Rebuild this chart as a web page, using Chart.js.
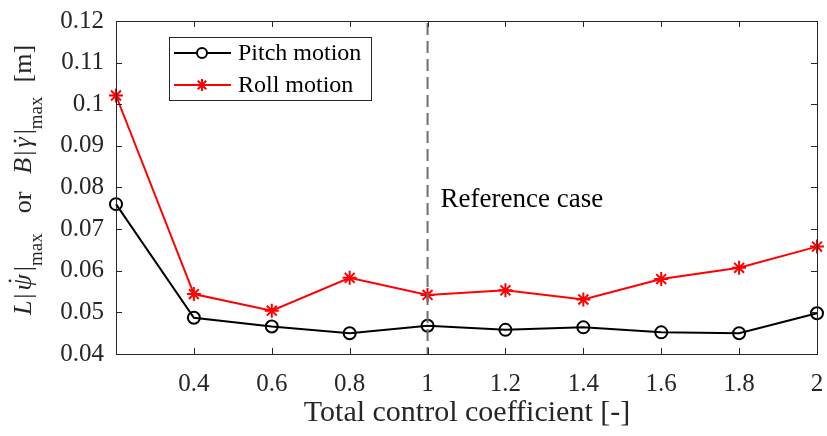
<!DOCTYPE html>
<html>
<head>
<meta charset="utf-8">
<script src="https://cdn.jsdelivr.net/npm/chart.js@4.4.1/dist/chart.umd.min.js"></script>
<style>
  html, body { margin: 0; padding: 0; background: #fff; }
  #wrap { width: 827px; height: 436px; position: relative; }
</style>
</head>
<body>
<div id="wrap"><canvas id="c" width="827" height="436"></canvas></div>
<script>
const SERIF = '"Liberation Serif", "Times New Roman", serif';
const AXIS_COLOR = '#262626';

// control coefficient values
const coeffs = [0.2, 0.4, 0.6, 0.8, 1.0, 1.2, 1.4, 1.6, 1.8, 2.0];
// L|psi'|max, pitch
const pitchVals = [0.0760, 0.0487, 0.0466, 0.0450, 0.0468, 0.0458, 0.0464, 0.0452, 0.0450, 0.0498];
// B|gamma'|max, roll
const rollVals = [0.1021, 0.0544, 0.0504, 0.0583, 0.0542, 0.0553, 0.0531, 0.0580, 0.0607, 0.0658];

const xTicks = [0.2, 0.4, 0.6, 0.8, 1, 1.2, 1.4, 1.6, 1.8, 2];
const yTicks = [0.04, 0.05, 0.06, 0.07, 0.08, 0.09, 0.1, 0.11, 0.12];
const refCase = 1;

const toPoints = vals => coeffs.map((x, i) => ({ x, y: vals[i] }));

// inward ticks on all four sides, box, reference line, legend and y title
const decorations = {
  id: 'decorations',
  afterDatasetsDraw(chart) {
    const { ctx, chartArea: a, scales } = chart;
    ctx.save();

    // reference case dashed line
    const xr = scales.x.getPixelForValue(refCase);
    ctx.strokeStyle = '#6e6e6e';
    ctx.lineWidth = 2;
    ctx.setLineDash([12, 6]);
    ctx.beginPath();
    ctx.moveTo(xr, a.top + 2);
    ctx.lineTo(xr, a.bottom);
    ctx.stroke();
    ctx.setLineDash([]);

    ctx.fillStyle = '#000';
    ctx.font = '27px ' + SERIF;
    ctx.textBaseline = 'middle';
    ctx.textAlign = 'left';
    ctx.fillText('Reference case', xr + 13, 200);

    // box and ticks
    ctx.strokeStyle = AXIS_COLOR;
    ctx.lineWidth = 1;
    ctx.strokeRect(Math.round(a.left) + 0.5, Math.round(a.top) + 0.5,
                   Math.round(a.right - a.left), Math.round(a.bottom - a.top));
    const tl = 6;
    ctx.beginPath();
    xTicks.forEach(v => {
      const px = Math.round(scales.x.getPixelForValue(v)) + 0.5;
      ctx.moveTo(px, a.bottom); ctx.lineTo(px, a.bottom - tl);
      ctx.moveTo(px, a.top); ctx.lineTo(px, a.top + tl);
    });
    yTicks.forEach(v => {
      const py = Math.round(scales.y.getPixelForValue(v)) + 0.5;
      ctx.moveTo(a.left, py); ctx.lineTo(a.left + tl, py);
      ctx.moveTo(a.right, py); ctx.lineTo(a.right - tl, py);
    });
    ctx.stroke();

    // legend
    const lx = 169, ly = 37, lw = 202, lh = 63;
    ctx.fillStyle = '#fff';
    ctx.fillRect(lx, ly, lw, lh);
    ctx.strokeStyle = '#262626';
    ctx.lineWidth = 1;
    ctx.strokeRect(lx + 0.5, ly + 0.5, lw, lh);
    const rows = [
      { label: 'Pitch motion', color: '#000', fill: '#fff', y: 53, style: 'circle', r: 5 },
      { label: 'Roll motion', color: '#ff0000', fill: '#ff0000', y: 85, style: 'star', r: 6 }
    ];
    rows.forEach(row => {
      ctx.strokeStyle = row.color;
      ctx.lineWidth = 2;
      ctx.beginPath();
      ctx.moveTo(174, row.y); ctx.lineTo(231, row.y);
      ctx.stroke();
      ctx.fillStyle = row.fill;
      Chart.helpers.drawPoint(ctx, { pointStyle: row.style, radius: row.r, borderWidth: 2 }, 202, row.y);
      ctx.fillStyle = '#000';
      ctx.font = '24px ' + SERIF;
      ctx.textAlign = 'left';
      ctx.textBaseline = 'middle';
      ctx.fillText(row.label, 238, row.y + 1);
    });

    // x title
    ctx.fillStyle = AXIS_COLOR;
    ctx.font = '30px ' + SERIF;
    ctx.textAlign = 'center';
    ctx.textBaseline = 'middle';
    ctx.fillText('Total control coefficient [-]', 467, 413);

    // y title: L|psi-dot|_max or B|gamma-dot|_max [m]
    const main = '26px ' + SERIF;
    const ital = 'italic 26px ' + SERIF;
    const sub = '19px ' + SERIF;
    const parts = [
      { t: 'L', f: ital }, { gap: 2 }, { t: '|', f: main }, { gap: 3 }, { t: '\u03C8', f: ital, dot: -21 },
      { gap: 3 }, { t: '|', f: main }, { t: 'max', f: sub, dy: 11 }, { gap: 20 }, { t: 'or', f: main },
      { gap: 18 }, { t: 'B', f: ital }, { gap: 2 }, { t: '|', f: main }, { gap: 3 },
      { t: '\u03B3', f: ital, dot: -16 }, { gap: 3 }, { t: '|', f: main }, { t: 'max', f: sub, dy: 11 },
      { gap: 14 }, { t: '[m]', f: main }
    ];
    let total = 0;
    parts.forEach(p => {
      if (p.gap) { p.w = p.gap; } else { ctx.font = p.f; p.w = ctx.measureText(p.t).width; }
      total += p.w;
    });
    ctx.translate(31, 180);
    ctx.rotate(-Math.PI / 2);
    ctx.textAlign = 'left';
    ctx.textBaseline = 'alphabetic';
    ctx.fillStyle = AXIS_COLOR;
    let cx = -total / 2;
    parts.forEach(p => {
      if (!p.gap) {
        ctx.font = p.f;
        ctx.fillText(p.t, cx, p.dy || 0);
        if (p.dot) {
          // time-derivative dot
          ctx.beginPath();
          ctx.arc(cx + p.w / 2 + 1.5, p.dot, 1.4, 0, Math.PI * 2);
          ctx.fill();
        }
      }
      cx += p.w;
    });

    ctx.restore();
  }
};

new Chart(document.getElementById('c'), {
  type: 'line',
  data: {
    datasets: [
      {
        label: 'Pitch motion',
        data: toPoints(pitchVals),
        borderColor: '#000',
        borderWidth: 2,
        pointStyle: 'circle',
        pointRadius: 6,
        pointBorderWidth: 2,
        pointBorderColor: '#000',
        pointBackgroundColor: 'transparent',
        tension: 0
      },
      {
        label: 'Roll motion',
        data: toPoints(rollVals),
        borderColor: '#ff0000',
        borderWidth: 2,
        pointStyle: 'star',
        pointRadius: 7,
        pointBorderWidth: 2,
        pointBorderColor: '#ff0000',
        pointBackgroundColor: '#ff0000',
        tension: 0
      }
    ]
  },
  options: {
    responsive: false,
    animation: false,
    clip: false,
    layout: { padding: { top: 21, right: 10, left: 0, bottom: 0 } },
    plugins: { legend: { display: false }, tooltip: { enabled: false } },
    scales: {
      x: {
        type: 'linear',
        min: 0.2,
        max: 2,
        afterBuildTicks: s => { s.ticks = xTicks.map(v => ({ value: v })); },
        afterFit: s => { s.height = 82; s.paddingLeft = 0; s.paddingRight = 0; },
        border: { display: false },
        grid: { display: false, drawTicks: false },
        ticks: {
          color: AXIS_COLOR,
          font: { family: SERIF, size: 25 },
          padding: 15,
          maxRotation: 0,
          autoSkip: false,
          callback: v => v === 0.2 ? '' : String(Math.round(v * 10) / 10)
        }
      },
      y: {
        min: 0.04,
        max: 0.12,
        afterBuildTicks: s => { s.ticks = yTicks.map(v => ({ value: v })); },
        afterFit: s => { s.width = 116; s.paddingTop = 0; s.paddingBottom = 0; },
        border: { display: false },
        grid: { display: false, drawTicks: false },
        ticks: {
          color: AXIS_COLOR,
          font: { family: SERIF, size: 25 },
          padding: 12,
          autoSkip: false,
          callback: v => String(Math.round(v * 100) / 100)
        }
      }
    }
  },
  plugins: [decorations]
});
</script>
</body>
</html>
